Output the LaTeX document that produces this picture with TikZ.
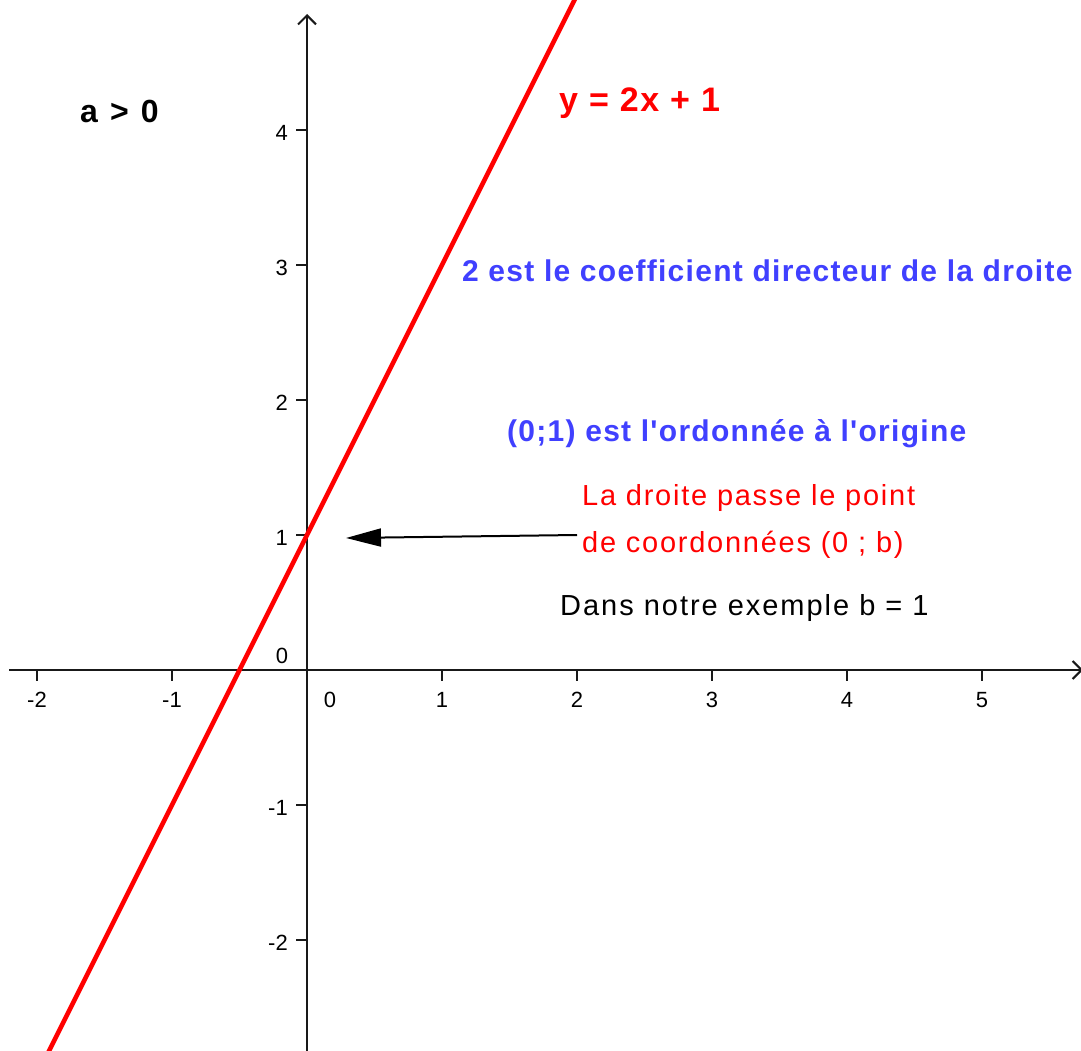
\documentclass[tikz,border=0pt]{standalone}
\usepackage{fontspec}
\setmainfont{Liberation Sans}
\newfontfamily\regfont[LetterSpace=6.0]{Liberation Sans}
\newfontfamily\blackfont[LetterSpace=6.8]{Liberation Sans}
\newfontfamily\bluefont[LetterSpace=4.3]{Liberation Sans}
\newfontfamily\afont[LetterSpace=10]{Liberation Sans}
\newfontfamily\eqfont[LetterSpace=4.5]{Liberation Sans}
\usetikzlibrary{arrows.meta}
\definecolor{ggblue}{RGB}{64,64,255}
\definecolor{ggred}{RGB}{255,0,0}
\definecolor{axisgray}{RGB}{25,25,25}
\begin{document}
\begin{tikzpicture}[x=1pt,y=-1pt,
  axis/.style={draw=axisgray,line width=2pt,-{Straight Barb[length=9pt,width=18pt,line width=2pt]}},
  tickmark/.style={draw=axisgray,line width=1.8pt},
  ticklbl/.style={inner sep=0pt,font=\fontsize{22}{22}\selectfont},
  redline/.style={draw=ggred,line width=4.5pt},
  pointer/.style={draw=black,line width=2pt,-{Triangle[length=35pt,width=18pt]}},
  txt/.style={inner sep=0pt,anchor=base west}
]
\useasboundingbox (0,0) rectangle (1081,1051);
\fill[white] (0,0) rectangle (1081,1051);

% axes
\coordinate (O) at (307,670);
\coordinate (xL) at (9,670);
\coordinate (xR) at (1083,670);
\coordinate (yB) at (307,1052);
\coordinate (yT) at (307,14);
\draw[axis] (xL) -- (xR);
\draw[axis] (yB) -- (yT);

% x ticks
\foreach \i in {-2,-1,1,2,3,4,5}{
  \draw[tickmark] (307+135*\i,670) -- ++(0,11);
  \node[ticklbl,anchor=base] (xl\i) at (307+135*\i,707) {\i};
}
% y ticks
\foreach \j in {-2,-1,1,2,3,4}{
  \draw[tickmark] (307,670-135*\j) -- ++(-11,0);
  \node[ticklbl,anchor=east] (yl\j) at (288,670-135*\j+3) {\j};
}
\node[ticklbl,anchor=base] (zeroA) at (330,707) {0};
\node[ticklbl,anchor=base] (zeroB) at (282,663) {0};

% the line y = 2x + 1
\coordinate (L1) at (10,1129);
\coordinate (L2) at (577,-5);
\draw[redline] (L1) -- (L2);

% texts
\node[txt] (apos) at (80,123) {\afont\bfseries\fontsize{32}{32}\selectfont a > 0};
\node[txt,text=ggred] (eq) at (559,112) {\eqfont\bfseries\fontsize{34}{34}\selectfont y = 2x + 1};
\node[txt,text=ggblue] (coef) at (462,281) {\bluefont\bfseries\fontsize{30}{30}\selectfont 2 est le coefficient directeur de la droite};
\node[txt,text=ggblue] (ordo) at (507,441) {\bluefont\bfseries\fontsize{30}{30}\selectfont (0;1) est l'ordonnée à l'origine};
\node[txt,text=ggred] (redA) at (582,505) {\regfont\fontsize{29}{29}\selectfont La droite passe le point};
\node[txt,text=ggred] (redB) at (582,552) {\regfont\fontsize{29}{29}\selectfont de coordonnées (0 ; b)};
\node[txt] (ex) at (560,615) {\blackfont\fontsize{29}{29}\selectfont Dans notre exemple b = 1};

% pointer arrow
\coordinate (ptrS) at (577,535);
\coordinate (ptrE) at (346,538);
\draw[pointer] (ptrS) -- (ptrE);
\end{tikzpicture}
\end{document}
